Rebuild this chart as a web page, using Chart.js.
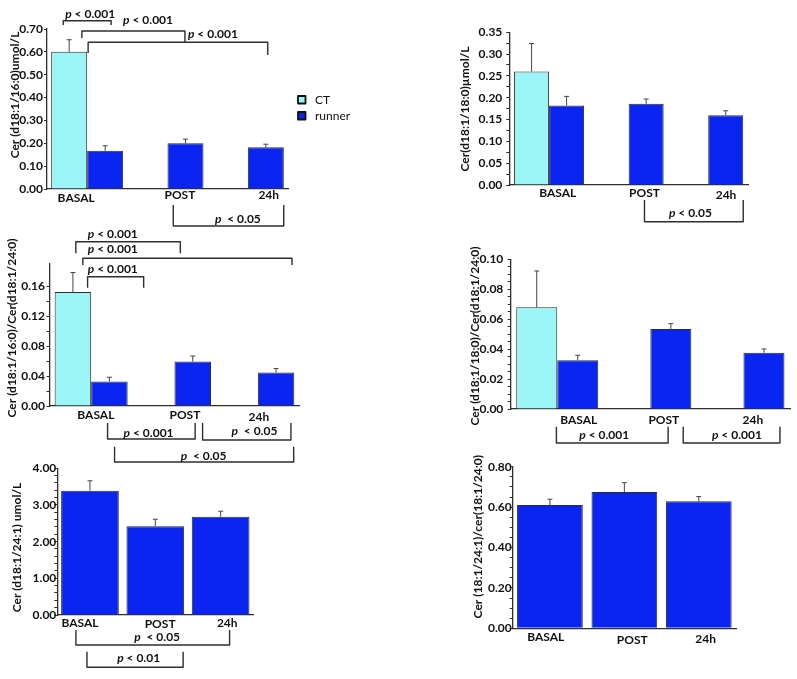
<!DOCTYPE html>
<html>
<head>
<meta charset="utf-8">
<script src="https://cdn.jsdelivr.net/npm/chart.js@4.4.1/dist/chart.umd.min.js"></script>
<style>
  html, body { margin: 0; padding: 0; background: #fff; }
  #page { position: relative; width: 797px; height: 679px; overflow: hidden; }
  #page canvas { position: absolute; }
</style>
</head>
<body>
<div id="page"></div>
<script>
const categories = ['BASAL', 'POST', '24h'];
const groups = ['CT', 'runner'];

// Cer(d18:1/16:0) umol/L
const c16Ct = [0.60, null, null];
const c16CtSem = [0.053, null, null];
const c16Runner = [0.167, 0.200, 0.183];
const c16RunnerSem = [0.022, 0.018, 0.013];
const c16Ticks = [0, 0.1, 0.2, 0.3, 0.4, 0.5, 0.6, 0.7];

// Cer(d18:1/18:0) umol/L
const c18Ct = [0.260, null, null];
const c18CtSem = [0.064, null, null];
const c18Runner = [0.182, 0.186, 0.160];
const c18RunnerSem = [0.021, 0.011, 0.010];
const c18Ticks = [0, 0.05, 0.1, 0.15, 0.2, 0.25, 0.3, 0.35];

// Cer(d18:1/16:0) / Cer(d18:1/24:0)
const r16Ct = [0.1526, null, null];
const r16CtSem = [0.026, null, null];
const r16Runner = [0.0328, 0.0594, 0.0448];
const r16RunnerSem = [0.0057, 0.0075, 0.0053];
const r16Ticks = [0, 0.04, 0.08, 0.12, 0.16];

// Cer(d18:1/18:0) / Cer(d18:1/24:0)
const r18Ct = [0.0679, null, null];
const r18CtSem = [0.0243, null, null];
const r18Runner = [0.0325, 0.0534, 0.0376];
const r18RunnerSem = [0.0034, 0.0036, 0.0025];
const r18Ticks = [0, 0.02, 0.04, 0.06, 0.08, 0.1];

// Cer(d18:1/24:1) umol/L
const c241Runner = [3.39, 2.42, 2.68];
const c241RunnerSem = [0.27, 0.19, 0.15];
const c241Ticks = [0, 1, 2, 3, 4];

// Cer(18:1/24:1) / cer(18:1/24:0)
const r241Runner = [0.610, 0.675, 0.629];
const r241RunnerSem = [0.029, 0.046, 0.023];
const r241Ticks = [0, 0.2, 0.4, 0.6, 0.8];

const CT_FILL = '#9cf6f8';
const RUN_FILL = '#0a24f2';
const INK = '#111111';
const LINE = '#2e2e2e';
const FONT = 'Lato, "Open Sans", sans-serif';

// layout of each panel; brackets use category units (u) for x, page pixels for y
const panels = [
  {
    title: 'Cer (d18:1/16:0)umol/L', titleAt: [15, 95],
    series: [{name: groups[0], values: c16Ct, sem: c16CtSem}, {name: groups[1], values: c16Runner, sem: c16RunnerSem}],
    ticks: c16Ticks, minor: 0, max: 0.7,
    box: {left: 0, top: 0, width: 400, height: 235},
    pad: {left: 0, top: 29, right: 112, bottom: 46},
    yWidth: 47, tickPad: 1, catPct: 0.896,
    labels: [[-0.137, 201.5], [1.155, 199.3], [2.26, 199.3]],
    brackets: [
      {u0: -0.298, u1: 0.298, y: 20.7, leg0: 25, leg1: 25, text: 'p < 0.001', tu: 0.037, ty: 17.5},
      {u0: -0.066, u1: 1.217, y: 31, leg0: 38, leg1: 42.3, text: 'p < 0.001', tu: 0.758, ty: 23.5},
      {u0: 0.012, u1: 2.248, y: 42.3, leg0: 53, leg1: 55, text: 'p < 0.001', tu: 1.565, ty: 37.5},
      {u0: 1.072, u1: 2.447, y: 226, leg0: 205, leg1: 205, text: 'p  < 0.05', tu: 1.876, ty: 222.5}
    ],
    legend: {x: 298, y: 96, size: 7.5, gap: 16, textX: 315}
  },
  {
    title: 'Cer(d18:1/18:0)\u00b5mol/L', titleAt: [465, 109],
    series: [{name: groups[0], values: c18Ct, sem: c18CtSem}, {name: groups[1], values: c18Runner, sem: c18RunnerSem}],
    ticks: c18Ticks, minor: 1, max: 0.35,
    box: {left: 440, top: 0, width: 357, height: 235},
    pad: {left: 0, top: 32.2, right: 49, bottom: 50},
    yWidth: 69.3, tickPad: 4, catPct: 0.88,
    labels: [[0.109, 197.3], [1.199, 197], [2.224, 199]],
    brackets: [
      {u0: 1.199, u1: 2.44, y: 221.7, leg0: 200, leg1: 200, text: 'p < 0.05', tu: 1.776, ty: 216.7}
    ]
  },
  {
    title: 'Cer (d18:1/16:0)/Cer(d18:1/24:0)', titleAt: [11.7, 328],
    series: [{name: groups[0], values: r16Ct, sem: r16CtSem}, {name: groups[1], values: r16Runner, sem: r16RunnerSem}],
    ticks: r16Ticks, minor: 1, max: 0.19,
    box: {left: 0, top: 215, width: 400, height: 265},
    pad: {left: 0, top: 49, right: 100.5, bottom: 74},
    yWidth: 49.5, tickPad: 1.5, catPct: 0.876,
    labels: [[0.056, 419], [1.125, 419], [2.013, 420.7]],
    brackets: [
      {u0: -0.184, u1: 1.07, y: 241.7, leg0: 253.3, leg1: 253.3, text: 'p < 0.001', tu: 0.26, ty: 238},
      {u0: -0.1, u1: 2.41, y: 258.3, leg0: 265, leg1: 265, text: 'p < 0.001', tu: 0.26, ty: 253},
      {u0: -0.043, u1: 0.63, y: 276.7, leg0: 287.7, leg1: 287.7, text: 'p < 0.001', tu: 0.26, ty: 273},
      {u0: 0.197, u1: 1.248, y: 439, leg0: 423, leg1: 423, text: 'p < 0.001', tu: 0.689, ty: 436.5},
      {u0: 1.337, u1: 2.397, y: 440, leg0: 423, leg1: 423, text: 'p  < 0.05', tu: 1.959, ty: 435},
      {u0: 0.281, u1: 2.43, y: 462, leg0: 446.7, leg1: 446.7, text: 'p  < 0.05', tu: 1.349, ty: 459.5}
    ]
  },
  {
    title: 'Cer (d18:1/18:0)/Cer(d18:1/24:0)', titleAt: [475, 336],
    series: [{name: groups[0], values: r18Ct, sem: r18CtSem}, {name: groups[1], values: r18Runner, sem: r18RunnerSem}],
    ticks: r18Ticks, minor: 3, max: 0.1,
    box: {left: 440, top: 215, width: 357, height: 250},
    pad: {left: 0, top: 44.3, right: 7, bottom: 56},
    yWidth: 70.7, tickPad: 4.4, catPct: 0.881,
    labels: [[0.231, 424.3], [1.145, 424.3], [2.102, 424.3]],
    brackets: [
      {u0: -0.009, u1: 1.191, y: 443, leg0: 426.7, leg1: 426.7, text: 'p < 0.001', tu: 0.505, ty: 439},
      {u0: 1.353, u1: 2.392, y: 443, leg0: 426.7, leg1: 426.7, text: 'p < 0.001', tu: 1.93, ty: 439}
    ]
  },
  {
    title: 'Cer (d18:1/24:1) umol/L', titleAt: [16.7, 547.5],
    series: [{name: groups[1], values: c241Runner, sem: c241RunnerSem}],
    ticks: c241Ticks, minor: 4, max: 4,
    box: {left: 0, top: 430, width: 400, height: 249},
    pad: {left: 0, top: 38.3, right: 146.7, bottom: 64},
    yWidth: 57.3, tickPad: -2, catPct: 0.883,
    labels: [[-0.153, 626.7], [1.074, 628.3], [2.101, 627.3]],
    brackets: [
      {u0: -0.215, u1: 2.137, y: 645, leg0: 630, leg1: 630, text: 'p  < 0.05', tu: 1.028, ty: 640.7},
      {u0: -0.046, u1: 1.426, y: 667.3, leg0: 651.7, leg1: 651.7, text: 'p < 0.01', tu: 0.745, ty: 661.7}
    ]
  },
  {
    title: 'Cer (18:1/24:1)/cer(18:1/24:0)', titleAt: [478.3, 536.7],
    series: [{name: groups[1], values: r241Runner, sem: r241RunnerSem}],
    ticks: r241Ticks, minor: 3, max: 0.8,
    box: {left: 440, top: 430, width: 357, height: 249},
    pad: {left: 0, top: 36.7, right: 61, bottom: 50.7},
    yWidth: 72.7, tickPad: -2, catPct: 0.883,
    labels: [[-0.056, 641], [1.107, 644], [2.091, 643]],
    brackets: []
  }
];

function withMinor(majors, perGap) {
  const out = [];
  majors.forEach((v, i) => {
    out.push(v);
    if (i < majors.length - 1) {
      for (let k = 1; k <= perGap; k++) out.push(v + (majors[i + 1] - v) * k / (perGap + 1));
    }
  });
  return out;
}

function drawPText(ctx, text, cx, by) {
  const italic = 'italic bold 12px ' + FONT;
  const bold = 'bold 12px ' + FONT;
  const rest = text.slice(1);
  ctx.font = italic;
  const w1 = ctx.measureText('p').width;
  ctx.font = bold;
  const w2 = ctx.measureText(rest).width;
  const x0 = cx - (w1 + w2) / 2;
  ctx.textAlign = 'left';
  ctx.textBaseline = 'alphabetic';
  ctx.fillStyle = INK;
  ctx.font = italic;
  ctx.fillText('p', x0, by);
  ctx.font = bold;
  ctx.fillText(rest, x0 + w1, by);
}

function makeChart(p) {
  const canvas = document.createElement('canvas');
  canvas.width = p.box.width;
  canvas.height = p.box.height;
  canvas.style.left = p.box.left + 'px';
  canvas.style.top = p.box.top + 'px';
  document.getElementById('page').appendChild(canvas);

  const tickList = withMinor(p.ticks, p.minor);
  const isMajor = v => p.ticks.some(m => Math.abs(m - v) < 1e-9);

  const decorate = {
    id: 'decorate',
    afterDatasetsDraw(chart) {
      const ctx = chart.ctx;
      const xs = chart.scales.x;
      const ys = chart.scales.y;
      const c0 = xs.getPixelForValue(0);
      const step = xs.getPixelForValue(1) - c0;
      const px = u => c0 + u * step;
      const py = v => v - p.box.top;
      const pxAbs = v => v - p.box.left;
      ctx.save();

      // error bars (upper only)
      p.series.forEach((s, di) => {
        const meta = chart.getDatasetMeta(di);
        s.values.forEach((v, i) => {
          if (v == null || s.sem[i] == null) return;
          const bar = meta.data[i];
          const yTop = ys.getPixelForValue(v + s.sem[i]);
          ctx.strokeStyle = '#444';
          ctx.lineWidth = 1;
          ctx.beginPath();
          ctx.moveTo(bar.x, bar.y);
          ctx.lineTo(bar.x, yTop);
          ctx.moveTo(bar.x - 2.5, yTop);
          ctx.lineTo(bar.x + 2.5, yTop);
          ctx.stroke();
        });
      });

      // category labels
      ctx.fillStyle = INK;
      ctx.font = 'bold 12px ' + FONT;
      ctx.textAlign = 'center';
      ctx.textBaseline = 'alphabetic';
      categories.forEach((c, i) => {
        const [u, y] = p.labels[i];
        ctx.fillText(c, px(u), py(y));
      });

      // y axis title
      ctx.save();
      ctx.translate(pxAbs(p.titleAt[0]), py(p.titleAt[1]));
      ctx.rotate(-Math.PI / 2);
      ctx.textAlign = 'center';
      ctx.textBaseline = 'middle';
      ctx.font = 'bold 12px ' + FONT;
      ctx.fillText(p.title, 0, 0);
      ctx.restore();

      // significance brackets
      p.brackets.forEach(b => {
        ctx.strokeStyle = LINE;
        ctx.lineWidth = 1.4;
        ctx.lineJoin = 'round';
        ctx.beginPath();
        ctx.moveTo(px(b.u0), py(b.leg0));
        ctx.lineTo(px(b.u0), py(b.y));
        ctx.lineTo(px(b.u1), py(b.y));
        ctx.lineTo(px(b.u1), py(b.leg1));
        ctx.stroke();
        drawPText(ctx, b.text, px(b.tu), py(b.ty));
      });

      // legend
      if (p.legend) {
        const L = p.legend;
        chart.data.datasets.forEach((ds, i) => {
          const bx = pxAbs(L.x);
          const by = py(L.y + i * L.gap);
          ctx.fillStyle = ds.backgroundColor;
          ctx.fillRect(bx, by, L.size, L.size);
          ctx.strokeStyle = '#111';
          ctx.lineWidth = 1.8;
          ctx.strokeRect(bx, by, L.size, L.size);
          ctx.fillStyle = INK;
          ctx.font = '12px ' + FONT;
          ctx.textAlign = 'left';
          ctx.textBaseline = 'middle';
          ctx.fillText(ds.label, pxAbs(L.textX), by + L.size / 2);
        });
      }
      ctx.restore();
    }
  };

  new Chart(canvas, {
    type: 'bar',
    data: {
      labels: categories,
      datasets: p.series.map(s => ({
        label: s.name,
        data: s.values,
        backgroundColor: s.name === 'CT' ? CT_FILL : RUN_FILL,
        borderColor: LINE,
        borderWidth: 1,
        barPercentage: 1,
        categoryPercentage: p.catPct
      }))
    },
    options: {
      responsive: false,
      animation: false,
      devicePixelRatio: 1,
      layout: {padding: p.pad},
      plugins: {
        legend: {display: false},
        tooltip: {enabled: false}
      },
      scales: {
        x: {
          grid: {display: false, drawTicks: false},
          border: {display: true, color: LINE, width: 1.3},
          ticks: {display: false},
          afterFit: s => { s.height = 0; }
        },
        y: {
          min: 0,
          max: p.max,
          grid: {display: true, drawOnChartArea: false, drawTicks: true, tickLength: 3, tickColor: LINE, tickWidth: 1},
          border: {display: true, color: LINE, width: 1.3},
          ticks: {
            autoSkip: false,
            padding: p.tickPad,
            color: INK,
            font: {family: FONT, weight: 'bold', size: 12},
            callback: v => isMajor(v) ? v.toFixed(2) : ''
          },
          afterBuildTicks: s => { s.ticks = tickList.map(v => ({value: v})); },
          afterFit: s => { s.width = p.yWidth; }
        }
      }
    },
    plugins: [decorate]
  });
}

panels.forEach(makeChart);
</script>
</body>
</html>
